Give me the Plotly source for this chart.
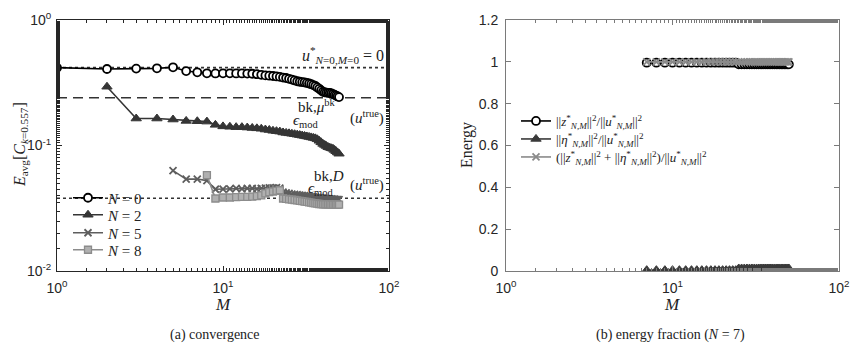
import plotly.graph_objects as go

# ---------------- data ----------------
M_n0 = list(range(1, 51))
E_n0 = [0.417, 0.407, 0.41, 0.412, 0.42, 0.392, 0.383, 0.376, 0.375, 0.376,
        0.376, 0.375, 0.375, 0.374, 0.373, 0.37, 0.366, 0.362, 0.36, 0.358,
        0.355, 0.352, 0.348, 0.345, 0.34, 0.335, 0.33, 0.325, 0.322, 0.32,
        0.318, 0.315, 0.312, 0.308, 0.303, 0.298, 0.29, 0.283, 0.275, 0.268,
        0.265, 0.264, 0.263, 0.262, 0.26, 0.257, 0.253, 0.25, 0.246, 0.243]

M_n2 = list(range(2, 51))
E_n2 = [0.294, 0.164, 0.164, 0.161, 0.157, 0.156, 0.155, 0.146, 0.142, 0.141,
        0.14, 0.14, 0.139, 0.138, 0.137, 0.136, 0.134, 0.133, 0.131, 0.13,
        0.129, 0.127, 0.126, 0.125, 0.124, 0.123, 0.122, 0.121, 0.12, 0.119,
        0.118, 0.117, 0.116, 0.115, 0.114, 0.112, 0.109, 0.106, 0.103, 0.101,
        0.099, 0.097, 0.096, 0.095, 0.094, 0.092, 0.09, 0.088, 0.086]

M_n5 = list(range(5, 51))
E_n5 = [0.063, 0.054, 0.054, 0.0525, 0.0448, 0.045, 0.0452, 0.0455, 0.0452, 0.0455,
        0.0455, 0.0452, 0.0455, 0.0458, 0.046, 0.046, 0.0462, 0.0458, 0.0425, 0.042,
        0.0415, 0.041, 0.0408, 0.0405, 0.0402, 0.04, 0.0398, 0.0396, 0.0394, 0.0392,
        0.039, 0.0388, 0.0386, 0.0384, 0.0382, 0.038, 0.0379, 0.0378, 0.0377, 0.0376,
        0.0375, 0.0374, 0.0373, 0.0372, 0.0371, 0.037]

M_n8 = list(range(8, 51))
E_n8 = [0.058, 0.0378, 0.0385, 0.0385, 0.0388, 0.039, 0.039, 0.0392, 0.0395, 0.04,
        0.0415, 0.0425, 0.043, 0.0435, 0.044, 0.0378, 0.0375, 0.0372, 0.037, 0.0368,
        0.0365, 0.0362, 0.036, 0.0357, 0.0355, 0.0352, 0.035, 0.0348, 0.0346, 0.0344,
        0.0342, 0.0341, 0.034, 0.034, 0.0339, 0.0339, 0.0339, 0.0338, 0.0338, 0.0338,
        0.0338, 0.0338, 0.0338]

ref_x = [1, 100]
ref_u0 = 0.417      # u*_{N=0,M=0} = 0
ref_mu = 0.24       # eps_mod^{bk,mu^bk}
ref_D = 0.038       # eps_mod^{bk,D}

M_b = list(range(7, 51))
eta_b = [0.004] * 18 + [0.012] * 26
z_b = [1 - e for e in eta_b]
sum_b = [1.0] * 44

x_ticks_log = [1, 10, 100]
x_ticks_txt = ["10<sup>0</sup>", "10<sup>1</sup>", "10<sup>2</sup>"]
y_ticks_log = [0.01, 0.1, 1]
y_ticks_txt = ["10<sup>-2</sup>", "10<sup>-1</sup>", "10<sup>0</sup>"]
y_ticks_b = [0, 0.2, 0.4, 0.6, 0.8, 1.0, 1.2]
y_ticks_b_txt = ["0", "0.2", "0.4", "0.6", "0.8", "1", "1.2"]

# ---------------- figure ----------------
W, H = 854, 348
SERIF = "Liberation Serif"
SANS = "Liberation Sans"

fig = go.Figure()

def px(xp):
    return xp / W

def py(yp):
    return 1 - yp / H

# left panel reference lines
fig.add_trace(go.Scatter(x=ref_x, y=[ref_u0, ref_u0], mode="lines",
                         line=dict(color="#333", width=1.6, dash="dot"),
                         showlegend=False, xaxis="x", yaxis="y"))
fig.add_trace(go.Scatter(x=ref_x, y=[ref_mu, ref_mu], mode="lines",
                         line=dict(color="#333", width=1.6, dash="10px,6px"),
                         showlegend=False, xaxis="x", yaxis="y"))
fig.add_trace(go.Scatter(x=ref_x, y=[ref_D, ref_D], mode="lines",
                         line=dict(color="#333", width=1.6, dash="dot"),
                         showlegend=False, xaxis="x", yaxis="y"))

fig.add_trace(go.Scatter(x=M_n0, y=E_n0, mode="lines+markers", name="<i>N</i> = 0",
                         line=dict(color="#000", width=1.6),
                         marker=dict(symbol="circle", size=8, color="white",
                                     line=dict(color="#000", width=1.8)),
                         xaxis="x", yaxis="y", legend="legend"))
fig.add_trace(go.Scatter(x=M_n2, y=E_n2, mode="lines+markers", name="<i>N</i> = 2",
                         line=dict(color="#353535", width=1.6),
                         marker=dict(symbol="triangle-up", size=9, color="#353535",
                                     line=dict(color="#353535", width=1)),
                         xaxis="x", yaxis="y", legend="legend2"))
fig.add_trace(go.Scatter(x=M_n5, y=E_n5, mode="lines+markers", name="<i>N</i> = 5",
                         line=dict(color="#5e5e5e", width=1.6),
                         marker=dict(symbol="x-thin-open", size=7, color="#5e5e5e",
                                     line=dict(color="#5e5e5e", width=1.8)),
                         xaxis="x", yaxis="y", legend="legend3"))
fig.add_trace(go.Scatter(x=M_n8, y=E_n8, mode="lines+markers", name="<i>N</i> = 8",
                         line=dict(color="#8c8c8c", width=1.6),
                         marker=dict(symbol="square", size=7, color="#b0b0b0",
                                     line=dict(color="#8c8c8c", width=1.3)),
                         xaxis="x", yaxis="y", legend="legend4"))

# right panel series
norm_z = "||<i>z</i><sup>*</sup><sub><i>N,M</i></sub>||<sup>2</sup>"
norm_eta = "||<i>η</i><sup>*</sup><sub><i>N,M</i></sub>||<sup>2</sup>"
norm_u = "||<i>u</i><sup>*</sup><sub><i>N,M</i></sub>||<sup>2</sup>"
fig.add_trace(go.Scatter(x=M_b, y=z_b, mode="lines+markers",
                         name=f"{norm_z}/{norm_u}",
                         line=dict(color="#000", width=1.6),
                         marker=dict(symbol="circle", size=8, color="white",
                                     line=dict(color="#000", width=1.8)),
                         xaxis="x2", yaxis="y2", legend="legend5"))
fig.add_trace(go.Scatter(x=M_b, y=eta_b, mode="lines+markers",
                         name=f"{norm_eta}/{norm_u}",
                         line=dict(color="#3a3a3a", width=1.6),
                         marker=dict(symbol="triangle-up", size=9, color="#3a3a3a",
                                     line=dict(color="#3a3a3a", width=1)),
                         xaxis="x2", yaxis="y2", legend="legend6"))
fig.add_trace(go.Scatter(x=M_b, y=sum_b, mode="lines+markers",
                         name=f"({norm_z} + {norm_eta})/{norm_u}",
                         line=dict(color="#8a8a8a", width=1.6),
                         marker=dict(symbol="x-thin-open", size=7, color="#8a8a8a",
                                     line=dict(color="#8a8a8a", width=1.8)),
                         xaxis="x2", yaxis="y2", legend="legend7"))

axis_common = dict(showgrid=False, zeroline=False, showline=True, mirror="ticks",
                   ticks="inside", ticklen=5, tickwidth=1, automargin=False,
                   tickfont=dict(family=SANS, size=14, color="#262626"))

def leg(x, y, size):
    return dict(x=px(x), y=py(y), xanchor="left", yanchor="middle",
                bgcolor="rgba(0,0,0,0)", font=dict(family=SERIF, size=size, color="#222"),
                tracegroupgap=0, itemwidth=30)

fig.update_layout(
    width=W, height=H,
    margin=dict(l=0, r=0, t=0, b=0),
    paper_bgcolor="white", plot_bgcolor="white",
    xaxis=dict(type="log", range=[0, 2], domain=[px(57), px(389)], anchor="y",
               tickvals=x_ticks_log, ticktext=x_ticks_txt, linecolor="#262626",
               tickcolor="#262626",
               minor=dict(ticks="inside", ticklen=3, tickcolor="#262626", showgrid=False),
               ticklabelstandoff=4, **axis_common),
    yaxis=dict(type="log", range=[-2, 0], domain=[py(271), py(20)], anchor="x",
               tickvals=y_ticks_log, ticktext=y_ticks_txt, linecolor="#262626",
               tickcolor="#262626",
               minor=dict(ticks="inside", ticklen=3, tickcolor="#262626", showgrid=False),
               ticklabelstandoff=2, **axis_common),
    xaxis2=dict(type="log", range=[0, 2], domain=[px(506), px(839)], anchor="y2",
                tickvals=x_ticks_log, ticktext=x_ticks_txt, linecolor="#7a7a7a",
                tickcolor="#7a7a7a",
                minor=dict(ticks="inside", ticklen=3, tickcolor="#7a7a7a", showgrid=False),
                ticklabelstandoff=4, **axis_common),
    yaxis2=dict(range=[0, 1.2], domain=[py(271), py(20)], anchor="x2",
                tickvals=y_ticks_b, ticktext=y_ticks_b_txt, linecolor="#7a7a7a",
                tickcolor="#7a7a7a", ticklabelstandoff=4, **axis_common),
    legend=leg(68, 198, 15),
    legend2=leg(68, 215, 15),
    legend3=leg(68, 233, 15),
    legend4=leg(68, 250, 15),
    legend5=leg(516, 121, 13),
    legend6=leg(516, 139, 13),
    legend7=leg(516, 157, 13),
)

ann = []
def text(x, y, t, size=15, xanchor="center", yanchor="middle", angle=0, fam=SERIF):
    ann.append(dict(x=px(x), y=py(y), xref="paper", yref="paper", text=t,
                    showarrow=False, xanchor=xanchor, yanchor=yanchor, textangle=angle,
                    font=dict(family=fam, size=size, color="#222")))

# reference-line labels
text(386, 55, "<i>u</i><sup>*</sup><sub><i>N</i>=0,<i>M</i>=0</sub> = 0", size=16, xanchor="right")
text(291, 121, "<i>ϵ</i><sub>mod</sub>", size=15, xanchor="left")
text(296, 106, "bk,<i>μ</i><sup>bk</sup>", size=15, xanchor="left")
text(386, 117, "(<i>u</i><sup>true</sup>)", size=15, xanchor="right")
text(306, 189, "<i>ϵ</i><sub>mod</sub>", size=15, xanchor="left")
text(312, 176, "bk,<i>D</i>", size=15, xanchor="left")
text(386, 184, "(<i>u</i><sup>true</sup>)", size=15, xanchor="right")

# axis titles
text(223, 304, "<i>M</i>", size=17)
text(20, 145, "<i>E</i><sub>avg</sub>[<i>C</i><sub><i>k</i>=0.557</sub>]", size=16, angle=-90)
text(672, 304, "<i>M</i>", size=17)
text(467, 145, "Energy", size=16, angle=-90)

# captions
text(215, 335, "(a) convergence", size=14)
text(670, 335, "(b) energy fraction (<i>N</i> = 7)", size=14)

fig.update_layout(annotations=ann)

fig.write_html("out.html")
